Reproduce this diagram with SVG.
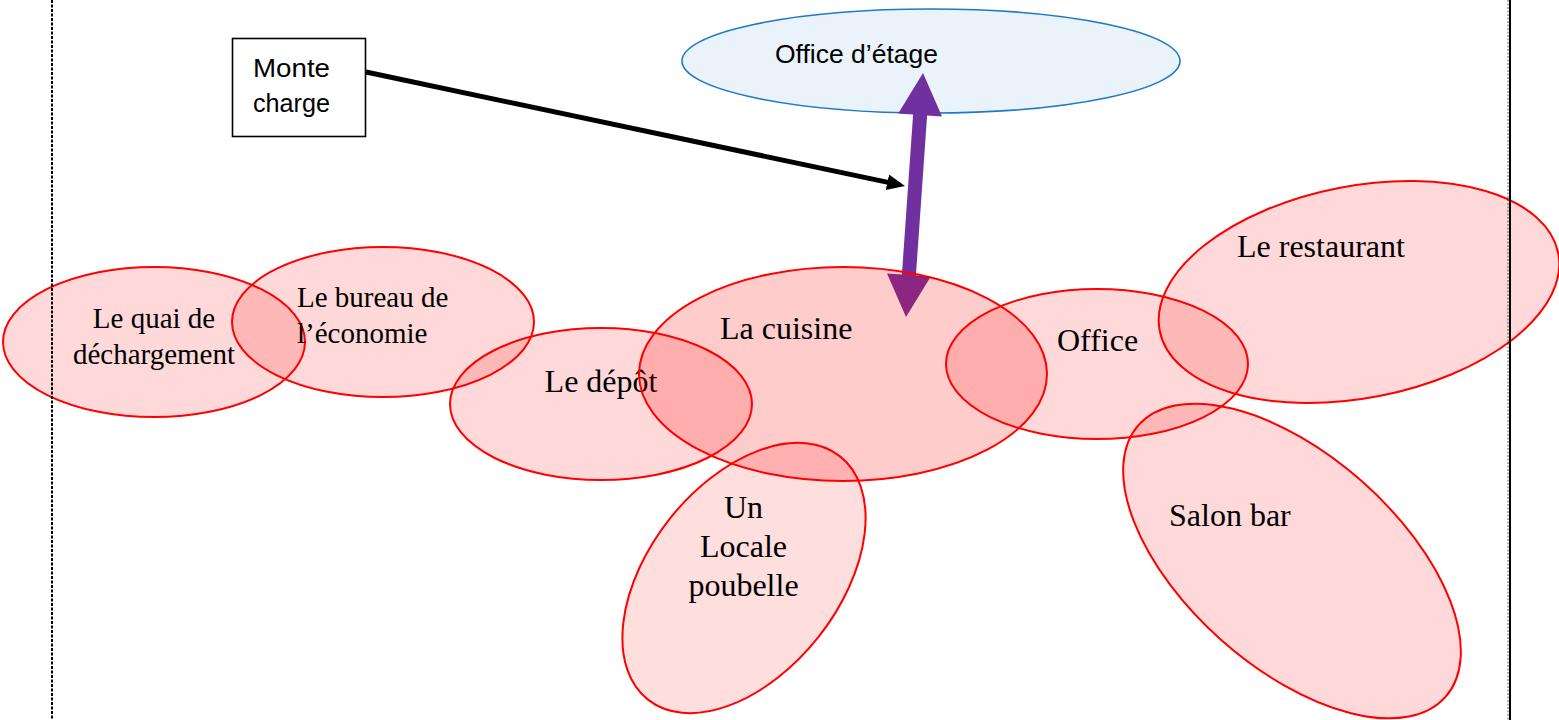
<svg xmlns="http://www.w3.org/2000/svg" width="1559" height="720" viewBox="0 0 1559 720">
  <style>
    .room { fill: #ff0000; fill-opacity: 0.15; stroke: #ff0000; stroke-width: 2; }
    .room-main { fill: #ff0000; fill-opacity: 0.2; stroke: #ff0000; stroke-width: 2; }
    .room-light { fill: #ff0000; fill-opacity: 0.13; stroke: #ff0000; stroke-width: 2; }
    .serif { font-family: "Liberation Serif", "Times New Roman", serif; fill: #000; }
    .sans { font-family: "Liberation Sans", Arial, sans-serif; fill: #000; }
    .t28 { font-size: 29px; }
    .t32 { font-size: 32px; }
  </style>
  <defs>
    <marker id="blackHead" markerUnits="userSpaceOnUse" markerWidth="20" markerHeight="20" viewBox="0 -10 20 20" refX="8" refY="0" orient="auto">
      <path d="M0,-8 L18,0 L0,8 Z" fill="#000"/>
    </marker>
  </defs>
  <rect x="0" y="0" width="1559" height="720" fill="#fff"/>

  <g id="office-etage">
    <ellipse cx="931" cy="61" rx="249" ry="52" fill="#ebf3fa" stroke="#1f78c8" stroke-width="1.6"/>
    <text class="sans" x="775" y="63" font-size="25" textLength="163" lengthAdjust="spacingAndGlyphs">Office d’étage</text>
  </g>

  <g id="monte-charge">
    <rect x="232.5" y="38.5" width="133" height="98" fill="#fff" stroke="#000" stroke-width="1.6"/>
    <text class="sans" x="253" y="77" font-size="26" textLength="77" lengthAdjust="spacingAndGlyphs">Monte</text>
    <text class="sans" x="253" y="112" font-size="26" textLength="77" lengthAdjust="spacingAndGlyphs">charge</text>
  </g>

  <g id="connectors">
    <line x1="366" y1="72" x2="895.2" y2="183.9" stroke="#000" stroke-width="5" marker-end="url(#blackHead)"/>
    <polygon points="923,73 942,116.4 927.1,115.4 915.9,275.6 930.8,276.6 906,317 887,273.6 901.9,274.6 913.1,114.4 898.2,113.4" fill="#7030a0"/>
  </g>

  <g id="quai">
    <ellipse class="room" cx="154" cy="342" rx="151" ry="75"/>
    <text class="serif t28" x="154" y="328" text-anchor="middle">Le quai de</text>
    <text class="serif t28" x="154" y="364" text-anchor="middle">déchargement</text>
  </g>

  <g id="bureau">
    <ellipse class="room" cx="383" cy="322" rx="151" ry="75"/>
    <text class="serif t28" x="297" y="307">Le bureau de</text>
    <text class="serif t28" x="297" y="343">l’économie</text>
  </g>

  <g id="depot">
    <ellipse class="room" cx="601" cy="404" rx="151" ry="76"/>
    <text class="serif t32" x="601" y="392" text-anchor="middle">Le dépôt</text>
  </g>

  <g id="cuisine">
    <ellipse class="room-main" cx="843" cy="374" rx="204" ry="107"/>
    <text class="serif t32" x="720" y="339">La cuisine</text>
  </g>

  <g id="poubelle">
    <ellipse class="room-light" cx="744" cy="578" rx="155" ry="95" transform="rotate(-51.7 744 578)"/>
    <text class="serif t32" x="743.5" y="518" text-anchor="middle">Un</text>
    <text class="serif t32" x="743.5" y="557" text-anchor="middle">Locale</text>
    <text class="serif t32" x="743.5" y="596" text-anchor="middle">poubelle</text>
  </g>

  <g id="office">
    <ellipse class="room" cx="1097" cy="364" rx="151" ry="75"/>
    <text class="serif t32" x="1057" y="351">Office</text>
  </g>

  <g id="restaurant">
    <ellipse class="room" cx="1359" cy="292" rx="203" ry="106" transform="rotate(-11 1359 292)"/>
    <text class="serif t32" x="1237" y="257">Le restaurant</text>
  </g>

  <g id="salon-bar">
    <ellipse class="room" cx="1292" cy="561" rx="205" ry="106" transform="rotate(41.5 1292 561)"/>
    <text class="serif t32" x="1169" y="526">Salon bar</text>
  </g>

  <g id="page-border">
    <line x1="52" y1="0" x2="52" y2="720" stroke="#000" stroke-width="2" stroke-dasharray="3 1.5"/>
    <line x1="1510" y1="0" x2="1510" y2="720" stroke="#000" stroke-width="2"/>
    <line x1="1508" y1="0" x2="1508" y2="720" stroke="#000" stroke-width="1" stroke-dasharray="2 1.5" stroke-opacity="0.6"/>
  </g>
</svg>
